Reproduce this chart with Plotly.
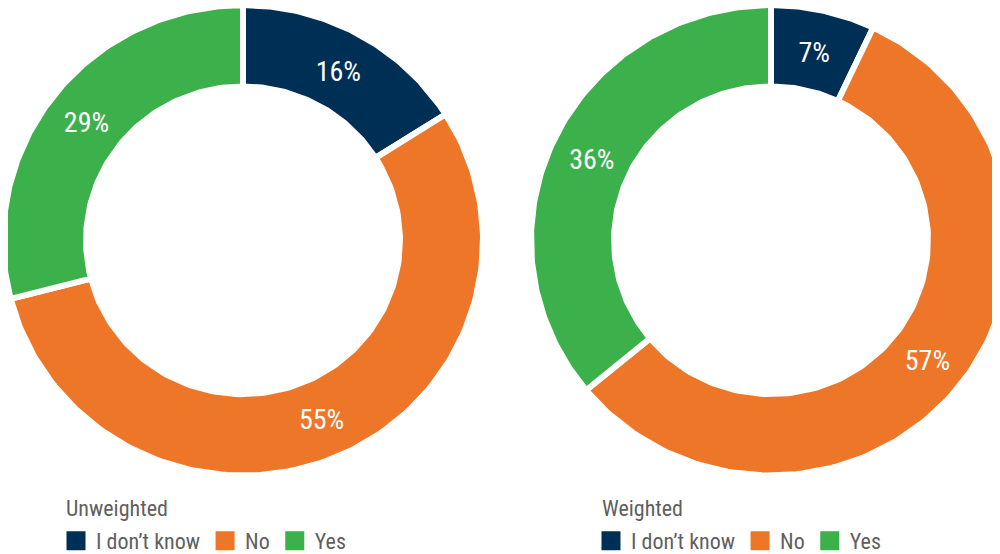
import numpy as np
import plotly.graph_objects as go

# survey answers, in percent
labels = ["I don’t know", "No", "Yes"]
unweighted = [16, 55, 29]
weighted = [7, 57, 36]
colors = ["#002f56", "#ee7628", "#3cb04a"]
titles = ["Unweighted", "Weighted"]

FONT = "Liberation Sans Narrow, Roboto Condensed, Arial Narrow, sans-serif"
GREY = "#5f5f5f"
W, H = 1000, 554

# donut geometry in pixel units (axes below are 1 unit = 1 px)
CY = 237
R_OUT, R_IN, R_TXT = 240, 157, 198
TXT_DY = 4  # digits sit a little low in the ring


def donut(fig, values, cx):
    edges = np.cumsum([0] + values) / sum(values) * 2 * np.pi
    for i, (v, col) in enumerate(zip(values, colors)):
        t = np.linspace(edges[i], edges[i + 1], 150)
        xs = np.concatenate([cx + R_OUT * np.sin(t), cx + R_IN * np.sin(t[::-1])])
        ys = np.concatenate([CY - R_OUT * np.cos(t), CY - R_IN * np.cos(t[::-1])])
        fig.add_trace(go.Scatter(
            x=np.append(xs, xs[0]), y=np.append(ys, ys[0]),
            mode="lines", fill="toself", fillcolor=col,
            line=dict(color="white", width=6),
            showlegend=False, hoverinfo="skip",
        ))
    mid = (edges[:-1] + edges[1:]) / 2
    fig.add_trace(go.Scatter(
        x=cx + R_TXT * np.sin(mid), y=CY - R_TXT * np.cos(mid) + TXT_DY,
        mode="text", text=[f"{v}%" for v in values],
        textfont=dict(family=FONT, size=28, color="white"),
        showlegend=False, hoverinfo="skip",
    ))


fig = go.Figure()
donut(fig, unweighted, 235)
donut(fig, weighted, 763)

# legend entries (square swatches), one legend per donut
for lg in ["legend", "legend2"]:
    for lab, col in zip(labels, colors):
        fig.add_trace(go.Scatter(
            x=[None], y=[None], mode="markers", name=lab, legend=lg,
            marker=dict(symbol="square", size=16, color=col,
                        line=dict(color=col, width=3)),
        ))

legend_style = dict(
    orientation="h", xanchor="left", yanchor="middle", y=10 / H,
    font=dict(family=FONT, size=22, color=GREY),
    bgcolor="rgba(0,0,0,0)", itemclick=False, itemdoubleclick=False,
)

fig.update_layout(
    width=W, height=H,
    margin=dict(l=0, r=0, t=0, b=0),
    paper_bgcolor="white", plot_bgcolor="white",
    xaxis=dict(visible=False, range=[0, W], fixedrange=True),
    yaxis=dict(visible=False, range=[H, 0], fixedrange=True),
    legend=dict(legend_style, x=48 / W),
    legend2=dict(legend_style, x=583 / W),
    annotations=[
        dict(text=titles[0], x=56 / W, y=(554 - 511) / H, xref="paper", yref="paper",
             xanchor="left", yanchor="middle", showarrow=False,
             font=dict(family=FONT, size=22, color=GREY)),
        dict(text=titles[1], x=592 / W, y=(554 - 511) / H, xref="paper", yref="paper",
             xanchor="left", yanchor="middle", showarrow=False,
             font=dict(family=FONT, size=22, color=GREY)),
    ],
)

fig.write_html("out.html")
